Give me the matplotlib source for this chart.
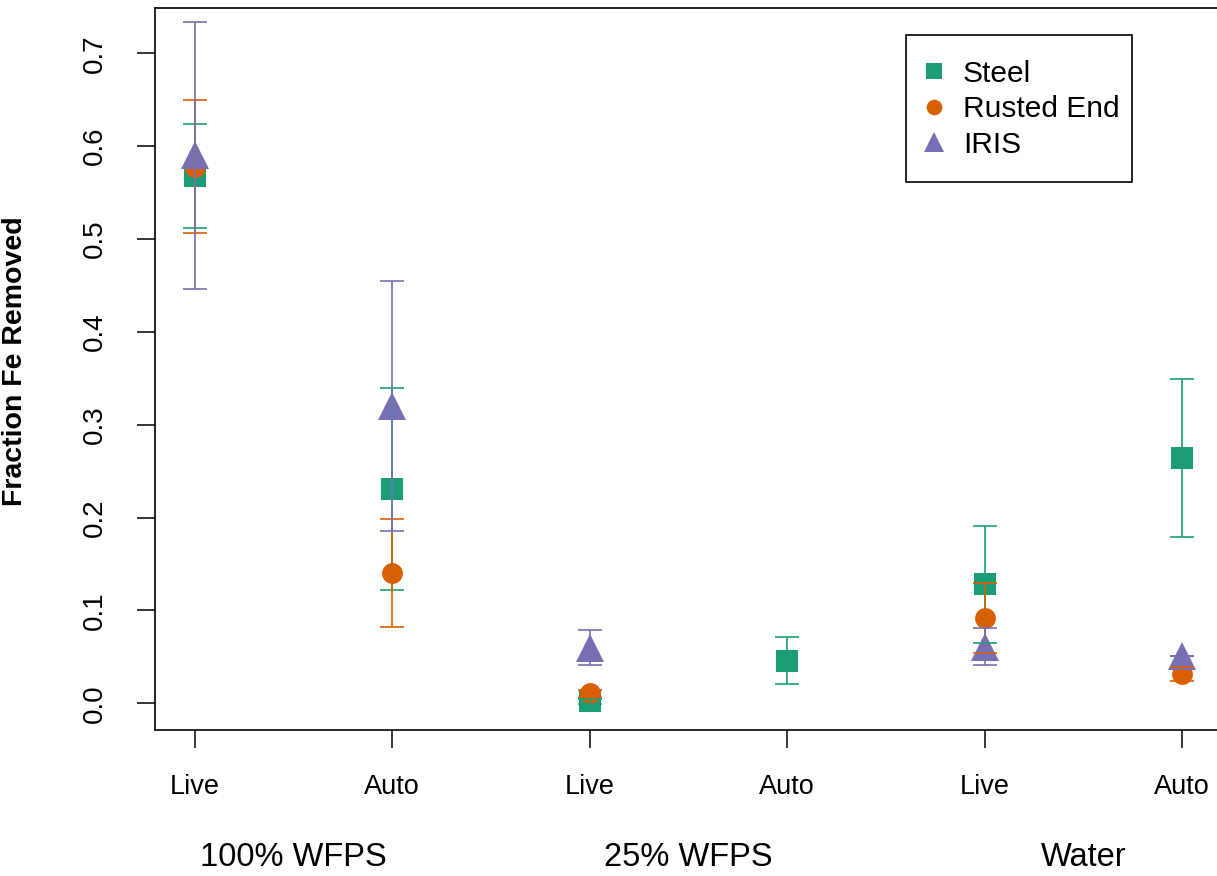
import numpy as np
import matplotlib
matplotlib.use("Agg")
import matplotlib.pyplot as plt
from matplotlib.patches import Rectangle
from matplotlib.transforms import blended_transform_factory

plt.rcParams["font.family"] = ["Liberation Sans", "DejaVu Sans"]

# x positions: Live/Auto within each treatment
TICK_LABELS = ["Live", "Auto", "Live", "Auto", "Live", "Auto"]
GROUPS = ["100% WFPS", "25% WFPS", "Water"]
X = np.arange(1, 7)

steel = [0.568, 0.231, 0.002, 0.046, 0.128, 0.264]
steel_err = [0.056, 0.109, 0.003, 0.025, 0.063, 0.085]
rusted = [0.578, 0.140, 0.0105, np.nan, 0.092, 0.031]
rusted_err = [0.072, 0.058, 0.004, np.nan, 0.038, 0.0075]
iris = [0.590, 0.320, 0.060, np.nan, 0.061, 0.051]
iris_err = [0.144, 0.135, 0.019, np.nan, 0.020, 0.0]

SERIES = [
    ("Steel", steel, steel_err, "#1B9E77", "s", 15.5),
    ("Rusted End", rusted, rusted_err, "#D95F02", "o", 15.0),
    ("IRIS", iris, iris_err, "#7570B3", "^", 19.5),
]

fig = plt.figure(figsize=(12.17, 8.76), dpi=100)
ax = fig.add_axes([0.1274, 0.1667, 0.8763, 0.8242])

for name, vals, errs, col, mk, ms in SERIES:
    ax.plot(X, vals, linestyle="none", marker=mk, markersize=ms,
            color=col, markeredgewidth=0, zorder=3)

for name, vals, errs, col, mk, ms in SERIES:
    ax.errorbar(X, vals, yerr=errs, fmt="none", ecolor=col,
                elinewidth=1.2, capsize=8.3, capthick=1.2, zorder=4)

ax.set_xlim(0.8, 6.2)
ax.set_ylim(-0.0288, 0.7488)

ax.set_xticks(X, TICK_LABELS)
ax.set_yticks(np.arange(0, 0.71, 0.1))
ax.set_yticklabels([f"{v:.1f}" for v in np.arange(0, 0.71, 0.1)],
                   rotation=90, va="center")
ax.tick_params(axis="x", length=13, width=1.1, pad=19, labelsize=19.5)
ax.tick_params(axis="y", length=13, width=1.1, pad=21, labelsize=20)

for sp in ax.spines.values():
    sp.set_linewidth(1.2)

ax.set_ylabel("Fraction Fe Removed", fontsize=20.5, fontweight="bold")
ax.yaxis.set_label_coords(-0.119, 0.511)

trans = blended_transform_factory(ax.transData, ax.transAxes)
for i, g in enumerate(GROUPS):
    ax.text(2 * i + 1.5, -0.176, g, transform=trans, ha="center",
            va="center", fontsize=23.5)

# legend box drawn by hand, R style
ax.add_patch(Rectangle((0.7042, 0.759), 0.2119, 0.2036,
                       transform=ax.transAxes, fill=False,
                       edgecolor="black", linewidth=1.2, zorder=5))
handles = []
for name, vals, errs, col, mk, ms in SERIES:
    h, = ax.plot([], [], linestyle="none", marker=mk, color=col,
                 markersize=ms * 0.75, markeredgewidth=0, label=name)
    handles.append(h)
ax.legend(handles=handles, loc="center left",
          bbox_to_anchor=(0.7164, 0.860), fontsize=21.5,
          frameon=False, borderpad=0, handlelength=1.0,
          handletextpad=0.47, labelspacing=0.25, borderaxespad=0)

fig.savefig("out.png", dpi=100)
